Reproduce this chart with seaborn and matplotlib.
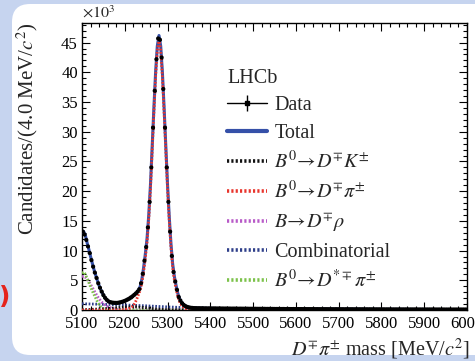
import numpy as np
import pandas as pd
import seaborn as sns
import matplotlib
matplotlib.use("Agg")
import matplotlib.pyplot as plt
from matplotlib.patches import FancyBboxPatch
from matplotlib.lines import Line2D
from matplotlib.legend_handler import HandlerTuple
from matplotlib.ticker import MultipleLocator

# ---------------- data (counts in units of 10^3 per 4 MeV bin) ----------------
data_mass = np.arange(5102, 6000, 4)
data_counts = [
    13.2, 12.7, 11.8, 10.7, 9.6, 8.4, 7.3, 6.3, 5.4, 4.5,
    3.75, 3.1, 2.5, 2.05, 1.7, 1.45, 1.32, 1.25, 1.22, 1.2,
    1.2, 1.24, 1.3, 1.38, 1.48, 1.6, 1.75, 1.9, 2.1, 2.3,
    2.55, 2.8, 3.1, 3.5, 4.5, 6.1, 8.3, 10.6, 13.9, 18.2,
    24.0, 30.7, 36.9, 42.2, 45.7, 45.5, 42.5, 37.2, 30.7, 24.0,
    18.2, 13.2, 9.1, 6.4, 4.8, 3.4, 2.2, 1.6, 1.15, 0.85,
    0.65, 0.52, 0.44, 0.38, 0.35, 0.32,
    0.31, 0.30, 0.30, 0.29, 0.29, 0.28, 0.28, 0.27, 0.28, 0.27,
    0.26, 0.27, 0.26, 0.25, 0.26, 0.25, 0.25, 0.24, 0.25, 0.24,
    0.24, 0.23, 0.24, 0.23, 0.23, 0.22, 0.23, 0.22, 0.22, 0.21,
    0.22, 0.21, 0.21, 0.21, 0.20, 0.21, 0.20, 0.20, 0.20, 0.19,
    0.20, 0.19, 0.19, 0.19, 0.18, 0.19, 0.18, 0.18, 0.18, 0.18,
    0.17, 0.18, 0.17, 0.17, 0.17, 0.17, 0.16, 0.17, 0.16, 0.16,
    0.16, 0.16, 0.16, 0.15, 0.16, 0.15, 0.15, 0.15, 0.15, 0.15,
    0.14, 0.15, 0.14, 0.14, 0.14, 0.14, 0.14, 0.14, 0.13, 0.14,
    0.13, 0.13, 0.14, 0.13, 0.13, 0.13, 0.13, 0.12, 0.13, 0.13,
    0.12, 0.13, 0.12, 0.12, 0.12, 0.12, 0.12, 0.12, 0.12, 0.11,
    0.12, 0.11, 0.12, 0.11, 0.11, 0.11, 0.11, 0.11, 0.11, 0.11,
    0.11, 0.10, 0.11, 0.10, 0.11, 0.10, 0.10, 0.10, 0.10, 0.10,
    0.10, 0.10, 0.10, 0.10, 0.10, 0.09, 0.10, 0.09, 0.10, 0.09,
    0.09, 0.09, 0.09, 0.09, 0.09, 0.09, 0.09, 0.09, 0.09, 0.09,
    0.09, 0.08, 0.09, 0.08, 0.09, 0.08, 0.08, 0.08, 0.08, 0.08,
    0.08, 0.08, 0.08, 0.08, 0.08, 0.08, 0.08, 0.08, 0.08,
]

# fit curve grid
fit_mass = list(np.arange(5100, 5401, 4)) + [5450, 5500, 5550, 5600, 5650, 5700,
                                            5750, 5800, 5850, 5900, 5950, 6000]
total_fit = [
    13.1, 13.2, 12.5, 11.3, 10.2, 9.0, 7.9, 6.8, 5.85, 4.95,
    4.1, 3.4, 2.8, 2.25, 1.85, 1.55, 1.38, 1.28, 1.22, 1.2,
    1.19, 1.2, 1.24, 1.3, 1.4, 1.52, 1.66, 1.82, 1.98, 2.18,
    2.4, 2.65, 2.95, 3.35, 3.95, 5.2, 7.1, 9.4, 12.0, 15.9,
    21.0, 27.4, 33.9, 39.9, 44.4, 46.2, 44.4, 39.9, 33.9, 27.4,
    21.0, 15.6, 11.1, 7.7, 5.6, 4.1, 2.8, 1.9, 1.35, 1.0,
    0.75, 0.57, 0.46, 0.39, 0.35, 0.33, 0.31, 0.3, 0.29, 0.28,
    0.28, 0.27, 0.27, 0.26, 0.26, 0.26,
    0.23, 0.2, 0.18, 0.16, 0.145, 0.13, 0.12, 0.105, 0.1, 0.09, 0.085, 0.08,
]
dpi_fit = (
    [0.0] * 24 +
    [0.05, 0.1, 0.15, 0.22, 0.32, 0.48, 0.75, 1.2, 1.85, 2.6,
     3.3, 4.5, 6.4, 8.7, 11.3, 15.2, 20.3, 26.7, 33.2, 39.2,
     43.7, 45.5, 43.7, 39.2, 33.2, 26.7, 20.4, 15.0, 10.5, 7.1,
     5.0, 3.5, 2.25, 1.4, 0.88, 0.55, 0.32, 0.17, 0.09, 0.04,
     0.02, 0.01] +
    [0.0] * 10 + [0.0] * 12
)

drho_mass = list(np.arange(5100, 5205, 4)) + [6000]
drho = [5.6, 5.7, 5.5, 5.2, 4.8, 4.3, 3.8, 3.3, 2.8, 2.3, 1.9, 1.5, 1.2, 0.95,
        0.75, 0.58, 0.45, 0.34, 0.25, 0.18, 0.13, 0.09, 0.06, 0.04, 0.02, 0.01,
        0.0, 0.0]

dstpi_mass = list(np.arange(5100, 5165, 4)) + [6000]
dstpi = [6.2, 6.4, 6.0, 5.3, 4.6, 3.9, 3.2, 2.6, 2.0, 1.4, 0.9, 0.55, 0.3,
         0.15, 0.06, 0.02, 0.0, 0.0]

dk_mass = [5100, 5120, 5140, 5160, 5180, 5200, 5220, 5240, 5260, 5280, 5300,
           5320, 5340, 5400, 6000]
dk = [0.05, 0.1, 0.17, 0.26, 0.38, 0.5, 0.55, 0.45, 0.28, 0.13, 0.05, 0.02,
      0.0, 0.0, 0.0]

comb_mass = [5100, 5150, 5200, 5250, 5300, 5350, 5400, 5450, 5500, 5600, 5700,
             5800, 5900, 6000]
comb = [1.05, 0.95, 0.85, 0.7, 0.52, 0.38, 0.28, 0.23, 0.2, 0.16, 0.13,
        0.105, 0.09, 0.08]

x_ticks = [5100, 5200, 5300, 5400, 5500, 5600, 5700, 5800, 5900, 6000]
y_ticks = [0, 5, 10, 15, 20, 25, 30, 35, 40, 45]

labels = ["Data", "Total", r"$B^0\!\rightarrow\! D^{\mp}K^{\pm}$",
          r"$B^0\!\rightarrow\! D^{\mp}\pi^{\pm}$", r"$B\!\rightarrow\! D^{\mp}\rho$",
          "Combinatorial", r"$B^0\!\rightarrow\! D^{*\mp}\pi^{\pm}$"]

# ---------------- style ----------------
sns.set_style("ticks")
plt.rcParams['font.family'] = ['Liberation Serif', 'DejaVu Serif']
plt.rcParams['mathtext.fontset'] = 'stix'

C_TOTAL = '#3550a8'
C_DPI = '#e8352d'
C_DRHO = '#b85ac8'
C_COMB = '#2f3f8a'
C_DST = '#7cc24a'
C_DK = '#111111'
DOT = (0, (0.6, 0.6))

fig = plt.figure(figsize=(4.75, 3.61), dpi=100, facecolor='#c6d4ef')
panel = FancyBboxPatch((0.12, 0.06), 5.0, 3.51,
                       boxstyle="round,pad=0,rounding_size=0.18",
                       transform=fig.dpi_scale_trans, facecolor='white',
                       edgecolor='none', zorder=-10)
fig.patches.append(panel)
fig.text(5 / 475, 1 - 297 / 361, ")", color='#e5231b', fontsize=18,
         fontweight='bold', ha='center', va='center', family='DejaVu Sans')

ax = fig.add_axes([82 / 475, 1 - 310 / 361, (467 - 82) / 475, (310 - 23) / 361])
ax.set_zorder(5)
ax.set_facecolor('white')

df_data = pd.DataFrame({"mass": data_mass, "counts": data_counts})

# components
sns.lineplot(x=comb_mass, y=comb, ax=ax, color=C_COMB, lw=2, linestyle=DOT, zorder=3)
sns.lineplot(x=drho_mass, y=drho, ax=ax, color=C_DRHO, lw=2, linestyle=DOT, zorder=3)
sns.lineplot(x=dstpi_mass, y=dstpi, ax=ax, color=C_DST, lw=2, linestyle=DOT, zorder=3)
sns.lineplot(x=dk_mass, y=dk, ax=ax, color=C_DK, lw=2, linestyle=DOT, zorder=3)
sns.lineplot(x=fit_mass, y=total_fit, ax=ax, color=C_TOTAL, lw=2.2, zorder=4)
sns.lineplot(x=fit_mass, y=dpi_fit, ax=ax, color=C_DPI, lw=2, linestyle=DOT, zorder=5)

# data
yerr = np.sqrt(np.array(data_counts) * 1000.0) / 1000.0
ax.errorbar(df_data["mass"], df_data["counts"], xerr=2, yerr=yerr, fmt='none',
            ecolor='black', elinewidth=1, zorder=6)
sns.scatterplot(data=df_data, x="mass", y="counts", ax=ax, color='black', s=9,
                edgecolor='none', marker='o', zorder=7, legend=False)

ax.set_xlim(5100, 6000)
ax.set_ylim(0, 48.3)
ax.set_xticks(x_ticks)
ax.set_xticklabels([str(v) for v in x_ticks])
ax.set_yticks(y_ticks)
ax.set_yticklabels([str(v) for v in y_ticks])
ax.xaxis.set_minor_locator(MultipleLocator(20))
ax.yaxis.set_minor_locator(MultipleLocator(1))
ax.tick_params(which='both', direction='in', top=True, right=True, width=0.8,
               colors='black', labelsize=12)
ax.tick_params(which='major', length=6)
ax.tick_params(which='minor', length=3)
ax.tick_params(axis='x', pad=4)
ax.tick_params(axis='y', pad=3)
for s in ax.spines.values():
    s.set_linewidth(1)
    s.set_color('black')

ax.set_xlabel(r"$D^{\mp}\pi^{\pm}$ mass [MeV/$c^2$]", fontsize=14.5, loc='right')
ax.xaxis.set_label_coords(1.008, -0.095)
ax.set_ylabel(r"Candidates/(4.0 MeV/$c^2$)", fontsize=15, loc='top')
ax.yaxis.set_label_coords(-0.108, 1.0)
ax.text(0.0, 1.004, r"$\times10^{3}$", transform=ax.transAxes, ha='left',
        va='bottom', fontsize=11.5)

# legend
h_data = (Line2D([], [], color='black', lw=1),
          Line2D([], [], color='black', marker='|', markersize=11, ls='none', markeredgewidth=1),
          Line2D([], [], color='black', marker='s', markersize=3.5, ls='none'))
h_tot = Line2D([], [], color=C_TOTAL, lw=3)
h_dk = Line2D([], [], color=C_DK, lw=2.6, linestyle=DOT)
h_dpi = Line2D([], [], color=C_DPI, lw=2.6, linestyle=DOT)
h_drho = Line2D([], [], color=C_DRHO, lw=2.6, linestyle=DOT)
h_comb = Line2D([], [], color=C_COMB, lw=2.6, linestyle=DOT)
h_dst = Line2D([], [], color=C_DST, lw=2.6, linestyle=DOT)
leg = ax.legend([h_data, h_tot, h_dk, h_dpi, h_drho, h_comb, h_dst], labels,
                handler_map={tuple: HandlerTuple(ndivide=1)},
                title="LHCb", title_fontsize=14.5, fontsize=14.5, frameon=False,
                loc='upper left', bbox_to_anchor=(227 / 475, 1 - 69 / 361),
                bbox_transform=fig.transFigure, borderpad=0, borderaxespad=0,
                handlelength=2.0, handletextpad=0.35, labelspacing=0.41,
                alignment='left')

fig.savefig("out.png", dpi=100, facecolor=fig.get_facecolor())
